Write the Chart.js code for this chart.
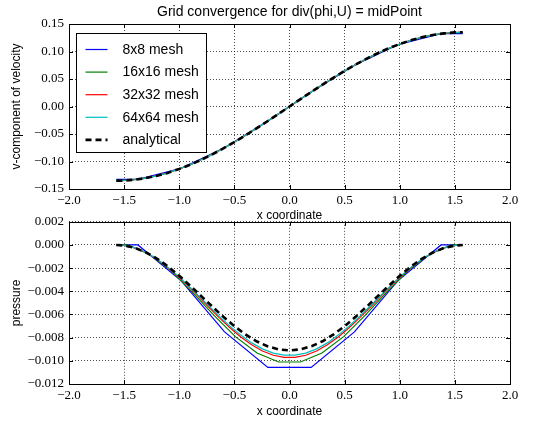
<!DOCTYPE html>
<html>
<head>
<meta charset="utf-8">
<script src="https://cdn.jsdelivr.net/npm/chart.js@4.4.1/dist/chart.umd.min.js"></script>
<style>
  body { margin: 0; background: #fff; }
  #wrap { position: relative; width: 551px; height: 425px; }
  canvas { position: absolute; left: 0; }
  #top { top: 0; }
  #bottom { top: 209px; }
</style>
</head>
<body>
<div id="wrap">
  <canvas id="top" width="551" height="223"></canvas>
  <canvas id="bottom" width="551" height="216"></canvas>
</div>
<script>
const chartTitle = 'Grid convergence for div(phi,U) = midPoint';
const seriesNames = ['8x8 mesh', '16x16 mesh', '32x32 mesh', '64x64 mesh', 'analytical'];

const xTickLabels = ['\u22122.0', '\u22121.5', '\u22121.0', '\u22120.5', '0.0', '0.5', '1.0', '1.5', '2.0'];
const vTickLabels = ['\u22120.15', '\u22120.10', '\u22120.05', '0.00', '0.05', '0.10', '0.15'];
const pTickLabels = ['\u22120.012', '\u22120.010', '\u22120.008', '\u22120.006', '\u22120.004', '\u22120.002', '0.000', '0.002'];

// x positions (cell centres + walls)
const x8 = [-1.5708, -1.3744, -0.9817, -0.5890, -0.1963, 0.1963, 0.5890, 0.9817, 1.3744, 1.5708];
const x16 = [-1.5708, -1.4726, -1.2763, -1.0799, -0.8836, -0.6872, -0.4909, -0.2945, -0.0982,
  0.0982, 0.2945, 0.4909, 0.6872, 0.8836, 1.0799, 1.2763, 1.4726, 1.5708];
const x32 = [-1.5708, -1.5217, -1.4235, -1.3254, -1.2272, -1.1290, -1.0308, -0.9327, -0.8345, -0.7363,
  -0.6381, -0.5400, -0.4418, -0.3436, -0.2454, -0.1473, -0.0491, 0.0491, 0.1473, 0.2454, 0.3436,
  0.4418, 0.5400, 0.6381, 0.7363, 0.8345, 0.9327, 1.0308, 1.1290, 1.2272, 1.3254, 1.4235, 1.5217, 1.5708];
// 64x64 drawn at the same spacing as 32x32 (looks the same at this size)
const x64 = x32;
const xA = [-1.5708, -1.5, -1.4, -1.3, -1.2, -1.1, -1.0, -0.9, -0.8, -0.7, -0.6, -0.5, -0.4, -0.3, -0.2, -0.1, 0,
  0.1, 0.2, 0.3, 0.4, 0.5, 0.6, 0.7, 0.8, 0.9, 1.0, 1.1, 1.2, 1.3, 1.4, 1.5, 1.5708];

// v-component of velocity
const v8 = [-0.1324, -0.1324, -0.1122, -0.0750, -0.0263, 0.0263, 0.0750, 0.1122, 0.1324, 0.1324];
const v16 = [-0.1344, -0.1344, -0.1292, -0.1191, -0.1044, -0.0856, -0.0637, -0.0392, -0.0132,
  0.0132, 0.0392, 0.0637, 0.0856, 0.1044, 0.1191, 0.1292, 0.1344, 0.1344];
const v32 = [-0.1348, -0.1348, -0.1335, -0.1310, -0.1271, -0.1220, -0.1158, -0.1084, -0.1000, -0.0907,
  -0.0804, -0.0694, -0.0577, -0.0455, -0.0328, -0.0198, -0.0066, 0.0066, 0.0198, 0.0328, 0.0455,
  0.0577, 0.0694, 0.0804, 0.0907, 0.1000, 0.1084, 0.1158, 0.1220, 0.1271, 0.1310, 0.1335, 0.1348, 0.1348];
const v64 = [-0.1349, -0.1349, -0.1336, -0.1310, -0.1272, -0.1221, -0.1158, -0.1084, -0.1001, -0.0907,
  -0.0805, -0.0694, -0.0577, -0.0455, -0.0328, -0.0198, -0.0066, 0.0066, 0.0198, 0.0328, 0.0455,
  0.0577, 0.0694, 0.0805, 0.0907, 0.1001, 0.1084, 0.1158, 0.1221, 0.1272, 0.1310, 0.1336, 0.1349, 0.1349];
const vA = [-0.1350, -0.1347, -0.1330, -0.1301, -0.1258, -0.1203, -0.1136, -0.1058, -0.0969, -0.0870,
  -0.0762, -0.0647, -0.0526, -0.0399, -0.0268, -0.0135, 0, 0.0135, 0.0268, 0.0399, 0.0526, 0.0647,
  0.0762, 0.0870, 0.0969, 0.1058, 0.1136, 0.1203, 0.1258, 0.1301, 0.1330, 0.1347, 0.1350];

// pressure
const p8 = [0, 0, -0.0031, -0.0075, -0.01057, -0.01057, -0.0075, -0.0031, 0, 0];
const p16 = [0, 0, -0.00077, -0.00219, -0.00405, -0.00606, -0.00791, -0.00933, -0.01010,
  -0.01010, -0.00933, -0.00791, -0.00606, -0.00405, -0.00219, -0.00077, 0, 0];
const p32 = [0, 0, -0.00019, -0.00055, -0.00108, -0.00176, -0.00255, -0.00344, -0.00437, -0.00533,
  -0.00627, -0.00715, -0.00794, -0.00862, -0.00915, -0.00952, -0.00970, -0.00970, -0.00952, -0.00915,
  -0.00862, -0.00794, -0.00715, -0.00627, -0.00533, -0.00437, -0.00344, -0.00255, -0.00176, -0.00108,
  -0.00055, -0.00019, 0, 0];
const p64 = [0, 0, -0.00019, -0.00054, -0.00106, -0.00172, -0.00250, -0.00337, -0.00428, -0.00522,
  -0.00614, -0.00701, -0.00778, -0.00845, -0.00897, -0.00933, -0.00951, -0.00951, -0.00933, -0.00897,
  -0.00845, -0.00778, -0.00701, -0.00614, -0.00522, -0.00428, -0.00337, -0.00250, -0.00172, -0.00106,
  -0.00054, -0.00019, 0, 0];
const pA = [0, -0.00005, -0.00026, -0.00065, -0.00119, -0.00187, -0.00266, -0.00352, -0.00442, -0.00532,
  -0.00620, -0.00701, -0.00772, -0.00831, -0.00874, -0.00901, -0.00910, -0.00901, -0.00874, -0.00831,
  -0.00772, -0.00701, -0.00620, -0.00532, -0.00442, -0.00352, -0.00266, -0.00187, -0.00119, -0.00065,
  -0.00026, -0.00005, 0];

const colors = ['#0000ff', '#008000', '#ff0000', '#00bfbf', '#000000'];
const tickFont = { family: 'Liberation Serif', size: 13 };
const labelFont = { family: 'Liberation Sans', size: 12 };
const gridColor = 'rgba(0,0,0,0.7)';

function pts(xs, ys) {
  return xs.map((x, i) => ({ x: x, y: ys[i] }));
}

function makeDatasets(series) {
  const xs = [x8, x16, x32, x64, xA];
  return series.map((ys, i) => ({
    label: seriesNames[i],
    data: pts(xs[i], ys),
    borderColor: colors[i],
    backgroundColor: colors[i],
    borderWidth: i == 4 ? 2.6 : 1.2,
    borderDash: i == 4 ? [6, 4] : [],
    pointRadius: 0,
    tension: 0,
    fill: false,
    order: 4 - i
  }));
}

// axes frame, inward ticks, title and legend the matplotlib way
const mplDecor = {
  id: 'mplDecor',
  afterDraw(chart, args, opts) {
    const ctx = chart.ctx, a = chart.chartArea;
    const xs = chart.scales.x, ys = chart.scales.y;
    ctx.save();
    ctx.setLineDash([]);
    ctx.strokeStyle = '#000';
    ctx.lineWidth = 1;
    ctx.beginPath();
    xs.ticks.forEach(t => {
      const px = Math.round(xs.getPixelForValue(t.value)) + 0.5;
      ctx.moveTo(px, a.top); ctx.lineTo(px, a.top + 4);
      ctx.moveTo(px, a.bottom); ctx.lineTo(px, a.bottom - 4);
    });
    ys.ticks.forEach(t => {
      const py = Math.round(ys.getPixelForValue(t.value)) + 0.5;
      ctx.moveTo(a.left, py); ctx.lineTo(a.left + 4, py);
      ctx.moveTo(a.right, py); ctx.lineTo(a.right - 4, py);
    });
    ctx.stroke();
    ctx.strokeRect(Math.round(a.left) + 0.5, Math.round(a.top) + 0.5,
      Math.round(a.right - a.left), Math.round(a.bottom - a.top));

    if (opts.title) {
      ctx.fillStyle = '#000';
      ctx.font = '14px "Liberation Sans"';
      ctx.textAlign = 'center';
      ctx.textBaseline = 'middle';
      ctx.fillText(opts.title, (a.left + a.right) / 2, 12.5);
    }

    if (opts.legend) {
      const bx = Math.round(a.left) + 7.5, by = Math.round(a.top) + 9.5;
      ctx.fillStyle = '#fff';
      ctx.fillRect(bx, by, 130, 119);
      ctx.strokeRect(bx, by, 130, 119);
      ctx.font = '14px "Liberation Sans"';
      ctx.textAlign = 'left';
      ctx.textBaseline = 'middle';
      chart.data.datasets.forEach((ds, i) => {
        const y = by + 16 + i * 22.6;
        ctx.strokeStyle = ds.borderColor;
        ctx.lineWidth = ds.borderWidth;
        ctx.setLineDash(ds.borderDash);
        ctx.beginPath();
        ctx.moveTo(bx + 9, y);
        ctx.lineTo(bx + 31, y);
        ctx.stroke();
        ctx.fillStyle = '#000';
        ctx.fillText(ds.label, bx + 46, y + 0.5);
      });
    }
    ctx.restore();
  }
};

function makeChart(canvasId, datasets, yMin, yMax, yStep, yLabels, yTitle, xAxisHeight, xTitlePad, padTop, decor) {
  return new Chart(document.getElementById(canvasId), {
    type: 'line',
    data: { datasets: datasets },
    options: {
      responsive: false,
      animation: false,
      devicePixelRatio: 1,
      layout: { padding: { top: padTop, right: 41, left: 0, bottom: 0 } },
      scales: {
        x: {
          type: 'linear',
          min: -2, max: 2,
          ticks: {
            stepSize: 0.5, padding: 4, color: '#000', font: tickFont, maxRotation: 0, autoSkip: false,
            callback: v => xTickLabels[Math.round((v + 2) / 0.5)]
          },
          grid: { color: gridColor, drawTicks: false, lineWidth: 1 },
          border: { display: false, dash: [1, 2] },
          title: { display: true, text: 'x coordinate', color: '#000', font: labelFont, padding: { top: 0, bottom: xTitlePad } },
          afterFit: s => { s.height = xAxisHeight; }
        },
        y: {
          type: 'linear',
          min: yMin, max: yMax,
          ticks: {
            stepSize: yStep, padding: 5, color: '#000', font: tickFont, autoSkip: false,
            callback: v => yLabels[Math.round((v - yMin) / yStep)]
          },
          grid: { color: gridColor, drawTicks: false, lineWidth: 1 },
          border: { display: false, dash: [1, 2] },
          title: { display: true, text: yTitle, color: '#000', font: labelFont, padding: { top: 9, bottom: 0 } },
          afterFit: s => { s.width = 69; }
        }
      },
      plugins: {
        legend: { display: false },
        tooltip: { enabled: false },
        mplDecor: decor
      }
    },
    plugins: [mplDecor]
  });
}

makeChart('top', makeDatasets([v8, v16, v32, v64, vA]), -0.15, 0.15, 0.05, vTickLabels,
  'v-component of velocity', 34, 0, 24, { title: chartTitle, legend: true });

makeChart('bottom', makeDatasets([p8, p16, p32, p64, pA]), -0.012, 0.002, 0.002, pTickLabels,
  'pressure', 41, 6, 8, { title: null, legend: false });
</script>
</body>
</html>
